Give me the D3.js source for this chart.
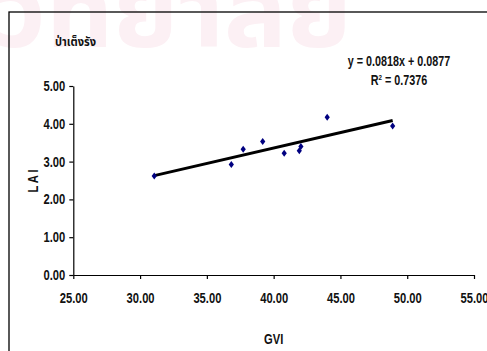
<!DOCTYPE html>
<html>
<head>
<meta charset="utf-8">
<script src="https://cdn.jsdelivr.net/npm/d3@7"></script>
<style>
  body { margin: 0; background: #fff; }
  svg { display: block; }
  text { font-family: "Liberation Sans", Arial, sans-serif; font-weight: bold; }
  .thai { font-family: "Noto Sans Thai", "Loma", "Garuda", "Tlwg Typo", "Noto Sans", sans-serif; }
</style>
</head>
<body>
<script>
// CHART DATA

var gvi = [31.06, 36.83, 37.72, 39.18, 40.79, 41.92, 42.04, 44.01, 48.91];
var lai = [2.62, 2.92, 3.33, 3.53, 3.22, 3.29, 3.40, 4.17, 3.94];

var xTicks = [25, 30, 35, 40, 45, 50, 55];
var yTicks = [0, 1, 2, 3, 4, 5];

var slope = 0.0818;
var intercept = 0.0877;

var titleText = "ป่าเต็งรัง";
var eqText = "y = 0.0818x + 0.0877";

// CHART STRUCTURE

var svgWidth = 487;
var svgHeight = 351;

var plot = {left: 73.3, right: 474, top: 86, bottom: 275};

// narrow look of the original bold font
var squeeze = 0.8;

var svg = d3.select("body")
  .append("svg")
  .attr("width", svgWidth)
  .attr("height", svgHeight);

// WATERMARK

svg.append("text")
  .attr("class", "thai")
  .attr("x", -8)
  .attr("y", 47)
  .attr("font-size", 104)
  .attr("font-weight", 300)
  .attr("textLength", 360)
  .attr("lengthAdjust", "spacingAndGlyphs")
  .attr("fill", "#fcf0f4")
  .text("วิทยาลัย");

// FRAME

svg.append("rect")
  .attr("x", 9)
  .attr("y", 12)
  .attr("width", 500)
  .attr("height", 400)
  .attr("fill", "none")
  .attr("stroke", "#000")
  .attr("stroke-width", 1.3);

// SCALES

var xScale = d3.scaleLinear().domain([25, 55]).range([plot.left, plot.right]);
var yScale = d3.scaleLinear().domain([0, 5]).range([plot.bottom, plot.top]);

// AXES

var xAxis = d3.axisBottom(xScale)
  .tickValues(xTicks)
  .tickSize(4)
  .tickSizeOuter(0)
  .tickPadding(14)
  .tickFormat(d3.format(".2f"));

var yAxis = d3.axisLeft(yScale)
  .tickValues(yTicks)
  .tickSize(4)
  .tickSizeOuter(0)
  .tickPadding(6)
  .tickFormat(d3.format(".2f"));

var gx = svg.append("g")
  .attr("transform", `translate(0, ${plot.bottom})`)
  .call(xAxis);

var gy = svg.append("g")
  .attr("transform", `translate(${plot.left}, 0)`)
  .call(yAxis);

[gx, gy].forEach(function(g) {
  g.select(".domain").attr("stroke", "#000").attr("stroke-width", 1.2);
  g.selectAll(".tick line").attr("stroke", "#000").attr("stroke-width", 1.2);
  g.selectAll(".tick text")
    .attr("fill", "#111")
    .attr("font-size", 14)
    .attr("font-family", null)
    .attr("transform", `scale(${squeeze}, 1)`);
});

// AXIS LABELS

svg.append("text")
  .attr("transform", `translate(${xScale(40)}, 344) scale(${squeeze}, 1)`)
  .attr("text-anchor", "middle")
  .attr("font-size", 14)
  .attr("fill", "#111")
  .text("GVI");

svg.append("text")
  .attr("transform", `translate(38, 181) rotate(-90) scale(${squeeze}, 1)`)
  .attr("text-anchor", "middle")
  .attr("font-size", 14)
  .attr("fill", "#111")
  .text("L A I");

// TITLE

svg.append("text")
  .attr("class", "thai")
  .attr("transform", `translate(55, 46) scale(0.85, 1)`)
  .attr("font-size", 13)
  .attr("font-weight", "bold")
  .attr("fill", "#111")
  .text(titleText);

// TRENDLINE

var xExtent = d3.extent(gvi);

svg.append("line")
  .attr("x1", xScale(xExtent[0]))
  .attr("y1", yScale(slope * xExtent[0] + intercept))
  .attr("x2", xScale(xExtent[1]))
  .attr("y2", yScale(slope * xExtent[1] + intercept))
  .attr("stroke", "#000")
  .attr("stroke-width", 3);

// POINTS

svg.selectAll(".pt")
  .data(gvi)
  .enter()
  .append("path")
  .attr("class", "pt")
  .attr("d", "M0,-3.5L2.6,0L0,3.5L-2.6,0Z")
  .attr("transform", (d, i) => `translate(${xScale(d)}, ${yScale(lai[i])})`)
  .attr("fill", "#000080");

// EQUATION

svg.append("text")
  .attr("transform", `translate(399, 66) scale(0.77, 1)`)
  .attr("text-anchor", "middle")
  .attr("font-size", 14)
  .attr("fill", "#111")
  .text(eqText);

var r2 = svg.append("text")
  .attr("transform", `translate(399, 85) scale(0.77, 1)`)
  .attr("text-anchor", "middle")
  .attr("font-size", 14)
  .attr("fill", "#111");
r2.append("tspan").text("R");
r2.append("tspan").attr("dy", -5).attr("font-size", 8).text("2");
r2.append("tspan").attr("dy", 5).text(" = 0.7376");
</script>
</body>
</html>
